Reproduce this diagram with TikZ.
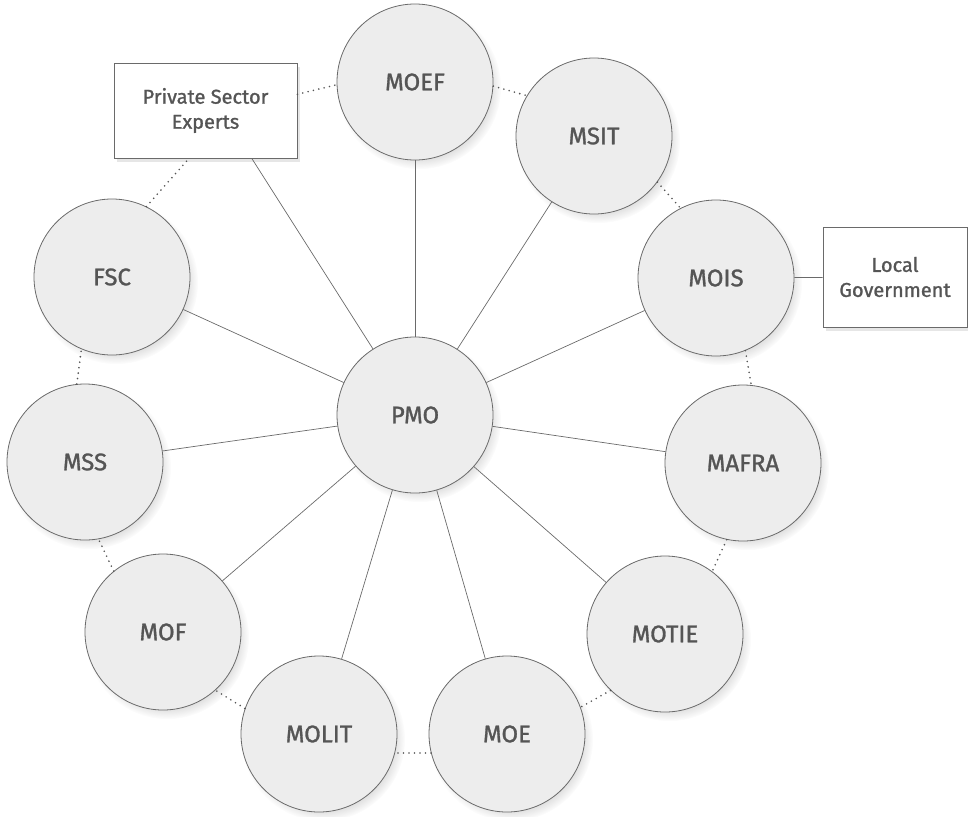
\documentclass[tikz,border=0pt]{standalone}
\usepackage{fontspec}
\setmainfont{Fira Sans}[FakeBold=1.2]
\usetikzlibrary{shadows,fadings}
\definecolor{cfill}{HTML}{EDEDED}
\definecolor{cline}{HTML}{6A6A6A}
\definecolor{ctext}{HTML}{555555}
\begin{document}
\begin{tikzpicture}[x=1pt,y=-1pt,
  csh/.style={general shadow={shadow scale=1.05, shadow xshift=4pt, shadow yshift=-5pt,
      opacity=0.45, fill=black!40, path fading={circle with fuzzy edge 20 percent}}},
  circ/.style={circle, minimum size=156pt, inner sep=0pt, draw=cline, line width=0.8pt,
      fill=cfill, text=ctext, font=\fontsize{24}{28}\selectfont, csh},
  boxnode/.style={rectangle, draw=cline, line width=0.8pt, fill=white, text=ctext,
      align=center, font=\fontsize{20}{25}\selectfont,
      drop shadow={shadow xshift=3pt, shadow yshift=-4pt, opacity=0.2}},
  link/.style={draw=cline, line width=0.7pt},
  dotline/.style={draw=ctext, line width=1.8pt, line cap=round, dash pattern=on 0pt off 5.5pt}]
\useasboundingbox (0,0) rectangle (968,816);

\node[circ] (PMO)   at (415,415) {PMO};
\node[circ] (MOEF)  at (415,82)  {MOEF};
\node[circ] (MSIT)  at (594,136) {MSIT};
\node[circ] (MOIS)  at (716,278) {MOIS};
\node[circ] (MAFRA) at (743,463) {MAFRA};
\node[circ] (MOTIE) at (665,634) {MOTIE};
\node[circ] (MOE)   at (507,734) {MOE};
\node[circ] (MOLIT) at (319,734) {MOLIT};
\node[circ] (MOF)   at (163,632) {MOF};
\node[circ] (MSS)   at (85,462)  {MSS};
\node[circ] (FSC)   at (112,277) {FSC};

\node[boxnode, minimum width=183pt, minimum height=95pt] (PSE) at (205.5,110.5) {Private Sector\\Experts};
\node[boxnode, minimum width=144pt, minimum height=100pt] (LG) at (895,277) {Local\\Government};

\foreach \n in {MOEF,MSIT,MOIS,MAFRA,MOTIE,MOE,MOLIT,MOF,MSS,FSC}
  \draw[link] (PMO) -- (\n);
\draw[link] (PMO) -- (PSE.-46);
\draw[link] (MOIS) -- (LG);

\draw[dotline] (PSE.10) -- (MOEF.182);
\draw[dotline] (MOEF.-3) -- (MSIT.149);
\draw[dotline] (MSIT.-36) -- (MOIS.117);
\draw[dotline] (MOIS.-68) -- (MAFRA.84);
\draw[dotline] (MAFRA.-102) -- (MOTIE.53);
\draw[dotline] (MOTIE.226) -- (MOE.20);
\draw[dotline] (MOE.194) -- (MOLIT.-14);
\draw[dotline] (MOLIT.161) -- (MOF.-48);
\draw[dotline] (MOF.129) -- (MSS.-80);
\draw[dotline] (MSS.96) -- (FSC.-113);
\draw[dotline] (FSC.64) -- (PSE.251);
\end{tikzpicture}
\end{document}
